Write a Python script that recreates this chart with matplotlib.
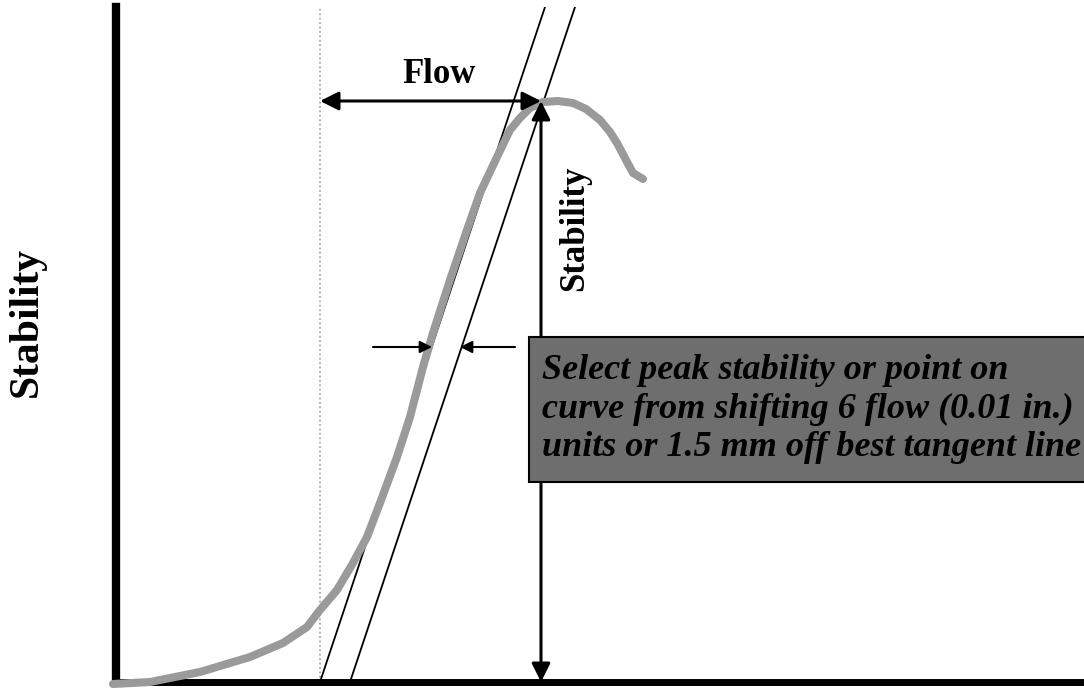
import matplotlib
matplotlib.use("Agg")
import matplotlib.pyplot as plt
from matplotlib.patches import Rectangle

# stability-flow curve (axis units)
curve_x = [-3, 34, 84, 134, 167, 191, 204, 221, 237, 251, 264, 281, 294, 307,
           317, 334, 351, 364, 381, 394, 404, 414, 427, 442, 457, 470, 484,
           494, 501, 510, 517, 527]
curve_y = [-2, 0, 10, 25, 39, 55, 72, 92, 119, 145, 179, 225, 265, 315,
           349, 402, 452, 489, 525, 552, 564, 574, 580, 581, 579, 573, 562,
           550, 539, 522, 509, 503]

# tangent line and the line shifted by 6 flow units
tangent_x = [204, 429]
shifted_x = [234, 459]
tangent_y = [0, 675]

flow_start = 204
peak_x = 425
peak_y = 581
marker_y = 335

box_text = ("Select peak stability or point on\n"
            "curve from shifting 6 flow (0.01 in.)\n"
            "units or 1.5 mm off best tangent line")

serif = ["Liberation Serif", "DejaVu Serif"]

fig = plt.figure(figsize=(10.84, 6.88), dpi=100)
ax = fig.add_axes([116 / 1084, 6 / 688, 968 / 1084, 675 / 688])
ax.set_xlim(0, 968)
ax.set_ylim(0, 675)

for side in ["top", "right"]:
    ax.spines[side].set_visible(False)
ax.spines["left"].set_linewidth(6)
ax.spines["bottom"].set_linewidth(5)
ax.set_xticks([])
ax.set_yticks([])

ax.set_ylabel("Stability", family=serif, fontsize=30, fontweight="bold")
ax.yaxis.set_label_coords(-0.073, 0.533)

# dotted start-of-flow line
ax.plot([flow_start, flow_start], [0, 675], color="#999999", lw=1.2, ls=":")

# tangent lines
ax.plot(tangent_x, tangent_y, color="black", lw=1.3)
ax.plot(shifted_x, tangent_y, color="black", lw=1.3)

# measured curve
ax.plot(curve_x, curve_y, color="#9a9a9a", lw=5.8, solid_capstyle="round",
        solid_joinstyle="round", clip_on=False, zorder=3)

# flow arrow
ax.annotate("", xy=(peak_x, peak_y), xytext=(flow_start, peak_y),
            arrowprops=dict(arrowstyle="<|-|>", color="black", lw=2.2,
                            mutation_scale=28, shrinkA=0, shrinkB=0),
            zorder=4)
ax.text(323, peak_y + 10, "Flow", family=serif,
        fontsize=25, fontweight="bold", ha="center", va="bottom")

# stability arrow
ax.annotate("", xy=(peak_x, peak_y), xytext=(peak_x, 0),
            arrowprops=dict(arrowstyle="<|-|>", color="black", lw=2.2,
                            mutation_scale=28, shrinkA=0, shrinkB=0),
            zorder=4)
ax.text(peak_x + 34, 454, "Stability", family=serif, fontsize=25,
        fontweight="bold", rotation=90, ha="center", va="center")

# small arrows marking the 6 unit offset
ax.annotate("", xy=(316, marker_y), xytext=(257, marker_y),
            arrowprops=dict(arrowstyle="-|>", color="black", lw=1.5,
                            mutation_scale=18, shrinkA=0, shrinkB=0))
ax.annotate("", xy=(344, marker_y), xytext=(399, marker_y),
            arrowprops=dict(arrowstyle="-|>", color="black", lw=1.5,
                            mutation_scale=18, shrinkA=0, shrinkB=0))

# note box
ax.add_patch(Rectangle((413, 200), 600, 145, facecolor="#6e6e6e",
                       edgecolor="black", lw=1.5, zorder=5, clip_on=True))
ax.text(426, 273, box_text, family=serif, fontsize=26, fontweight="bold",
        fontstyle="italic", ha="left", va="center", linespacing=1.22,
        color="black", zorder=6)

fig.savefig("out.png", dpi=100)
